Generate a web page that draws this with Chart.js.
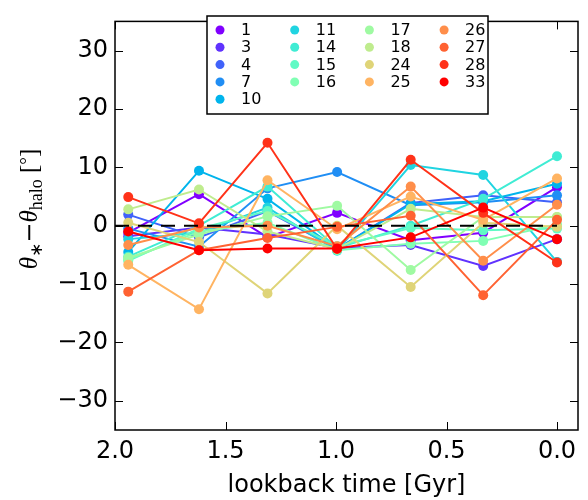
<!DOCTYPE html>
<html lang="en">
<head>
<meta charset="UTF-8">
<title>stellar vs halo angle</title>
<script src="https://cdn.jsdelivr.net/npm/chart.js@4.4.1/dist/chart.umd.min.js"></script>
<style>
  body { margin: 0; background: #fff; }
</style>
</head>
<body>
<canvas id="chart" width="588" height="500"></canvas>
<script>
// lookback time of each snapshot [Gyr]
const lookback = [1.94, 1.62, 1.31, 0.995, 0.662, 0.334, 0.0];
const haloIds = ['1', '3', '4', '7', '10', '11', '14', '15', '16', '17', '18', '24', '25', '26', '27', '28', '33'];

// theta_* - theta_halo [deg], one array per halo
const h1  = [-1.2, 5.4, -2.0, 2.2, -2.5, -1.2, 6.6];
const h3  = [-1.8, -0.3, -1.5, -3.8, -3.3, -6.9, -2.3];
const h4  = [1.9, -2.0, 2.5, -4.0, 3.9, 5.2, 4.0];
const h7  = [-0.5, -3.6, 6.4, 9.2, 3.5, 4.0, 5.2];
const h10 = [-4.5, 9.4, 4.6, -4.0, 3.7, 4.2, 7.2];
const h11 = [-2.3, -1.2, 3.1, -4.3, 10.4, 8.7, -6.2];
const h14 = [-5.3, 0.0, 6.7, -3.8, 0.0, 4.6, 11.9];
const h15 = [-6.0, -0.5, 2.5, -3.5, -0.4, -0.8, -0.5];
const h16 = [-5.8, -1.0, 0.5, -4.2, -3.1, -2.6, 0.2];
const h17 = [-5.5, -1.5, 1.6, 3.4, -7.6, 1.5, 1.5];
const h18 = [2.8, 6.2, -1.0, -4.0, 2.9, 1.5, 1.5];
const h24 = [0.5, -2.8, -11.6, 0.0, -10.5, 0.5, -0.2];
const h25 = [-6.7, -14.3, 7.8, -0.6, 5.0, 1.0, 8.1];
const h26 = [-3.3, -0.3, 0.0, -3.5, 6.7, -6.0, 3.6];
const h27 = [-11.3, -4.2, -2.1, -0.2, 1.7, -11.9, 1.0];
const h28 = [4.9, 0.4, 14.2, -4.0, 11.3, 2.2, -6.3];
const h33 = [-1.0, -4.2, -3.9, -3.9, -2.0, 3.1, -2.3];

const xTicks = [2.0, 1.5, 1.0, 0.5, 0.0];
const yTicks = [-30, -20, -10, 0, 10, 20, 30];

const allSeries = [h1, h3, h4, h7, h10, h11, h14, h15, h16, h17, h18, h24, h25, h26, h27, h28, h33];

// matplotlib "rainbow" colormap
function rainbow(t) {
  const cl = v => Math.round(Math.max(0, Math.min(1, v)) * 255);
  const r = Math.abs(2 * t - 0.5);
  const g = Math.sin(Math.PI * t);
  const b = Math.cos(Math.PI * t / 2);
  return 'rgb(' + cl(r) + ',' + cl(g) + ',' + cl(b) + ')';
}
const colors = haloIds.map((_, i) => rainbow(i / (haloIds.length - 1)));

const datasets = allSeries.map((s, i) => ({
  label: haloIds[i],
  data: lookback.map((t, j) => ({ x: t, y: s[j] })),
  borderColor: colors[i],
  backgroundColor: colors[i],
  borderWidth: 2,
  pointRadius: 5,
  pointHoverRadius: 5,
  pointBorderWidth: 0,
  order: haloIds.length + 1 - i
}));
datasets.push({
  label: 'zero',
  data: [{ x: 2.0, y: 0 }, { x: 0.0, y: 0 }],
  borderColor: '#000',
  borderWidth: 2,
  borderDash: [14, 9],
  pointRadius: 0,
  order: 0
});

const tickFont = { family: 'DejaVu Sans', size: 24 };

const frame = {
  id: 'frame',
  afterDraw(chart) {
    const { ctx, chartArea: a, scales } = chart;
    ctx.save();
    ctx.strokeStyle = '#000';
    ctx.lineWidth = 1;
    xTicks.forEach(v => {
      const px = Math.round(scales.x.getPixelForValue(v)) + 0.5;
      ctx.beginPath();
      ctx.moveTo(px, a.bottom); ctx.lineTo(px, a.bottom - 8);
      ctx.moveTo(px, a.top); ctx.lineTo(px, a.top + 8);
      ctx.stroke();
    });
    yTicks.forEach(v => {
      const py = Math.round(scales.y.getPixelForValue(v)) + 0.5;
      ctx.beginPath();
      ctx.moveTo(a.left, py); ctx.lineTo(a.left + 8, py);
      ctx.moveTo(a.right, py); ctx.lineTo(a.right - 8, py);
      ctx.stroke();
    });
    ctx.lineWidth = 1.5;
    ctx.strokeRect(a.left, a.top, a.right - a.left, a.bottom - a.top);

    // legend box, column-major in 4 columns
    const bx = 207, by = 16, bw = 281, bh = 98;
    ctx.fillStyle = '#fff';
    ctx.fillRect(bx, by, bw, bh);
    ctx.strokeRect(bx, by, bw, bh);
    ctx.font = '16px "DejaVu Sans"';
    ctx.textBaseline = 'middle';
    ctx.textAlign = 'left';
    haloIds.forEach((id, k) => {
      let col, row;
      if (k < 5) { col = 0; row = k; } else { col = 1 + Math.floor((k - 5) / 4); row = (k - 5) % 4; }
      const mx = 220 + col * 74.7;
      const my = 30 + row * 17.3;
      ctx.fillStyle = colors[k];
      ctx.beginPath();
      ctx.arc(mx, my, 4.5, 0, Math.PI * 2);
      ctx.fill();
      ctx.fillStyle = '#000';
      ctx.fillText(id, mx + 21, my + 1);
    });

    // y axis label
    const parts = [
      { t: '\u03b8', f: 'italic 25px "Liberation Serif"', dy: 0 },
      { t: '\u2217', f: '17px "DejaVu Sans"', dy: 5 },
      { t: '\u2212', f: '24px "DejaVu Sans"', dy: 0 },
      { t: '\u03b8', f: 'italic 25px "Liberation Serif"', dy: 0 },
      { t: 'halo', f: '18px "Liberation Serif"', dy: 5 },
      { t: ' [', f: '25px "Liberation Serif"', dy: 0 },
      { t: '\u00b0', f: '19px "Liberation Serif"', dy: -4 },
      { t: ']', f: '25px "Liberation Serif"', dy: 0 }
    ];
    let total = 0;
    parts.forEach(p => { ctx.font = p.f; p.w = ctx.measureText(p.t).width; total += p.w; });
    ctx.translate(37, 209);
    ctx.rotate(-Math.PI / 2);
    ctx.textBaseline = 'alphabetic';
    ctx.fillStyle = '#000';
    let x = -total / 2;
    parts.forEach(p => { ctx.font = p.f; ctx.fillText(p.t, x, p.dy); x += p.w; });
    ctx.restore();
  }
};

new Chart(document.getElementById('chart'), {
  type: 'line',
  data: { datasets: datasets },
  options: {
    responsive: false,
    animation: false,
    layout: { padding: { top: 9, right: 10, left: 0, bottom: 0 } },
    plugins: { legend: { display: false }, tooltip: { enabled: false } },
    scales: {
      x: {
        type: 'linear',
        reverse: true,
        min: -0.095,
        max: 2.0,
        grid: { display: false, drawTicks: false },
        border: { display: false },
        ticks: {
          font: tickFont, color: '#000', padding: 7, maxRotation: 0, autoSkip: false,
          callback: v => Number(v).toFixed(1)
        },
        title: { display: true, text: 'lookback time [Gyr]', font: tickFont, color: '#000', padding: { top: 0, bottom: 0 } },
        afterBuildTicks: s => { s.ticks = xTicks.map(v => ({ value: v })); },
        afterFit: s => { s.height = 70; }
      },
      y: {
        min: -35,
        max: 35,
        grid: { display: false, drawTicks: false },
        border: { display: false },
        ticks: {
          font: tickFont, color: '#000', padding: 7,
          callback: v => (v < 0 ? '\u2212' + Math.abs(v) : String(v))
        },
        afterBuildTicks: s => { s.ticks = yTicks.map(v => ({ value: v })); },
        afterFit: s => { s.width = 115; }
      }
    }
  },
  plugins: [frame]
});
</script>
</body>
</html>
